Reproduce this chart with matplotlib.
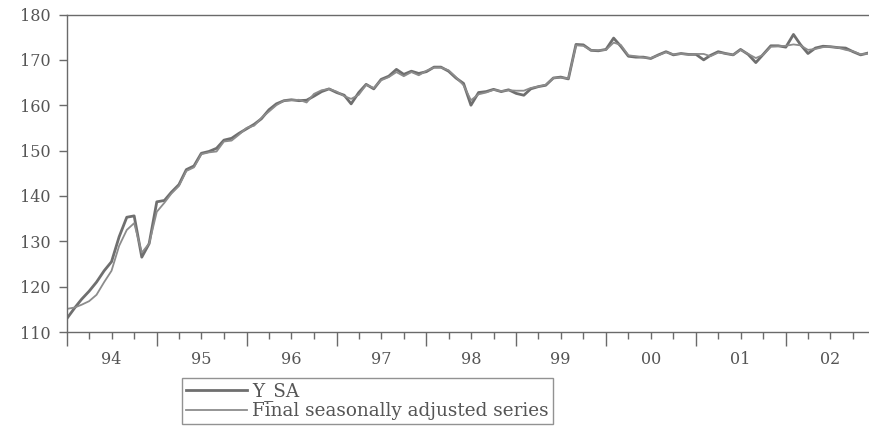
import numpy as np
import pandas as pd
import matplotlib
matplotlib.use("Agg")
import matplotlib.pyplot as plt
import matplotlib.dates as mdates

start_month = "1994-01-01"
year_labels = ["94", "95", "96", "97", "98", "99", "00", "01", "02"]
y_ticks = [110, 120, 130, 140, 150, 160, 170, 180]

y_sa = [113.0, 115.3, 117.2, 119.0, 121.0, 123.5, 125.5, 131.0, 135.3, 135.6, 126.5, 129.5,
        138.7, 139.0, 140.8, 142.5, 145.8, 146.6, 149.4, 149.8, 150.5, 152.3, 152.7, 153.8,
        154.8, 155.8, 157.0, 159.0, 160.3, 161.0, 161.2, 161.0, 161.1, 162.0, 163.0, 163.6,
        162.8, 162.2, 160.3, 162.8, 164.6, 163.6, 165.7, 166.4, 167.9, 166.8, 167.5, 167.0,
        167.4, 168.4, 168.4, 167.5, 166.0, 164.8, 160.0, 162.8, 163.0, 163.5, 163.0, 163.4,
        162.6, 162.2, 163.6, 164.1, 164.4, 166.0, 166.2, 165.8, 173.4, 173.3, 172.1, 172.0,
        172.3, 174.8, 173.0, 170.8, 170.6, 170.6, 170.3, 171.1, 171.8, 171.1, 171.4, 171.2,
        171.2, 170.0, 171.0, 171.8, 171.4, 171.1, 172.3, 171.2, 169.4, 171.2, 173.1, 173.1,
        172.8, 175.6, 173.4, 171.4, 172.6, 173.0, 172.9, 172.7, 172.6, 171.8, 171.1, 171.5]

final_sa = [115.1, 115.4, 116.0, 116.8, 118.2, 121.0, 123.5, 129.0, 132.5, 134.0, 127.5, 129.5,
            136.5, 138.5, 140.5, 142.2, 145.5, 146.3, 149.2, 149.6, 149.8, 152.0, 152.2, 153.5,
            155.0, 155.5, 157.2, 158.6, 160.0, 161.0, 161.1, 161.2, 160.6, 162.5, 163.3, 163.6,
            163.0, 162.0, 161.4, 162.3, 164.5, 163.8, 165.5, 166.2, 167.3, 166.4, 167.3, 166.6,
            167.6, 168.3, 168.3, 167.7, 166.2, 164.4, 161.1, 162.4, 162.8, 163.4, 163.1, 163.3,
            163.2, 163.2, 163.8, 164.1, 164.5, 166.0, 166.1, 165.9, 173.2, 173.1, 172.1, 172.1,
            172.2, 173.8, 173.3, 171.0, 170.8, 170.5, 170.4, 171.0, 171.7, 171.2, 171.3, 171.2,
            171.3, 171.3, 170.8, 171.6, 171.4, 171.1, 172.2, 171.3, 170.4, 171.1, 172.9, 173.0,
            173.1, 173.4, 173.2, 172.2, 172.4, 172.8, 172.9, 172.7, 172.2, 171.9, 171.2, 171.4]

dates = pd.date_range(start_month, periods=len(y_sa), freq="MS")

W, H = 870, 428
fig = plt.figure(figsize=(W / 100, H / 100), dpi=100)
ax = fig.add_axes([67 / W, 1 - 332 / H, (868 - 67) / W, (332 - 14.5) / H])

txt = "#555555"
axc = "#6a6a6a"

l1, = ax.plot(dates, y_sa, color="#6f6f6f", lw=2.0, label="Y_SA")
l2, = ax.plot(dates, final_sa, color="#8c8c8c", lw=1.3, label="Final seasonally adjusted series")

ax.set_xlim(dates[0], dates[-1])
ax.set_ylim(110, 180)
ax.set_yticks(y_ticks)
ax.set_yticklabels([str(t) for t in y_ticks], family="DejaVu Serif", fontsize=11.5, color=txt)

ax.xaxis.set_major_locator(mdates.YearLocator())
ax.xaxis.set_minor_locator(mdates.MonthLocator(bymonth=[1, 4, 7, 10]))
ax.xaxis.set_major_formatter(plt.NullFormatter())
ax.tick_params(axis="x", which="major", length=10, width=1, color=axc, direction="out")
ax.tick_params(axis="x", which="minor", length=5, width=1, color=axc, direction="out")
ax.tick_params(axis="y", which="major", length=6, width=1, color=axc, direction="out", pad=6)

for k, lab in enumerate(year_labels):
    mid = pd.Timestamp(year=1994 + k, month=7, day=1)
    ax.text(mdates.date2num(mid), -0.06, lab, transform=ax.get_xaxis_transform(),
            ha="center", va="top", family="DejaVu Serif", fontsize=11.5, color=txt)

for s in ["left", "bottom", "top"]:
    ax.spines[s].set_color(axc)
    ax.spines[s].set_linewidth(1.0)
ax.spines["right"].set_visible(False)

leg = fig.legend(handles=[l1, l2], loc="upper left",
                 bbox_to_anchor=(182 / W, 1 - 378 / H), frameon=True, fancybox=False,
                 handlelength=3.3, handletextpad=0.3, borderpad=0.22, labelspacing=0.08,
                 borderaxespad=0,
                 prop={"family": "DejaVu Serif", "size": 13.2})
leg.get_frame().set_edgecolor("#777777")
leg.get_frame().set_linewidth(1.0)
for t in leg.get_texts():
    t.set_color(txt)

fig.savefig("out.png", dpi=100)
